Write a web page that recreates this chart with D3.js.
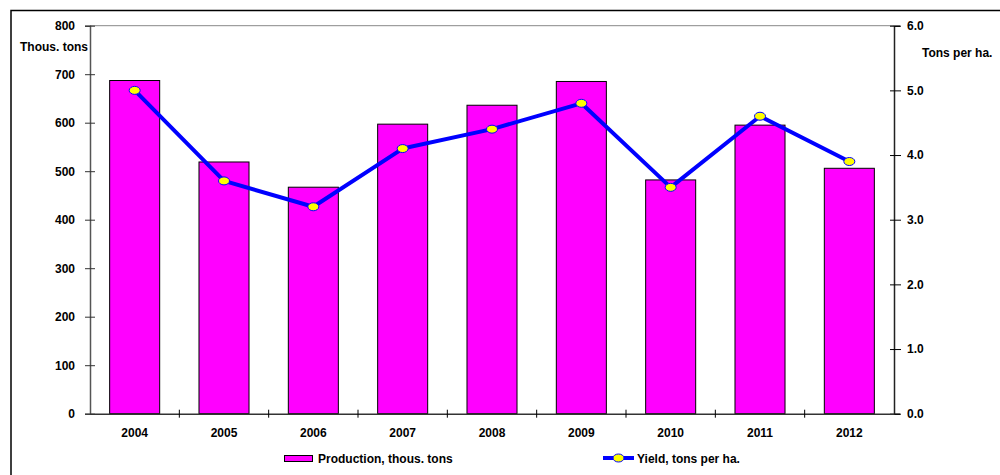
<!DOCTYPE html>
<html>
<head>
<meta charset="utf-8">
<script src="https://cdn.jsdelivr.net/npm/d3@7"></script>
<style>
  html, body { margin: 0; padding: 0; background: #fff; }
  svg { display: block; font-family: "Liberation Sans", Arial, sans-serif; font-weight: bold; }
</style>
</head>
<body>
<svg id="chart" width="1000" height="475"></svg>
<script>
// Annual production (bars, left axis) and yield (line, right axis)
const years = ["2004", "2005", "2006", "2007", "2008", "2009", "2010", "2011", "2012"];
const production = [687, 519, 467, 597, 636, 685, 482, 595, 506];
const yieldPerHa = [5.0, 3.6, 3.2, 4.1, 4.4, 4.8, 3.5, 4.6, 3.9];
const leftTicks = [0, 100, 200, 300, 400, 500, 600, 700, 800];
const rightTicks = [0, 1, 2, 3, 4, 5, 6];

const FONT = "Liberation Sans, Arial, sans-serif";
const FS = 12;

const svg = d3.select("#chart");
const plot = { left: 90, right: 894, top: 25.7, bottom: 413.7 };

// outer frame
svg.append("rect")
  .attr("x", 11).attr("y", 10.5).attr("width", 1000).attr("height", 500)
  .attr("fill", "none").attr("stroke", "#000").attr("stroke-width", 1.5);

const x = d3.scaleBand().domain(years).range([plot.left, plot.right]).paddingInner(0.44).paddingOuter(0.22);
const yL = d3.scaleLinear().domain([0, 800]).range([plot.bottom, plot.top]);
const yR = d3.scaleLinear().domain([0, 6]).range([plot.bottom, plot.top]);

// plot area top border
svg.append("line")
  .attr("x1", plot.left).attr("x2", plot.right)
  .attr("y1", plot.top).attr("y2", plot.top)
  .attr("stroke", "#888").attr("stroke-width", 1);

// bars
svg.append("g").selectAll("rect").data(years).join("rect")
  .attr("x", d => x(d))
  .attr("y", (d, i) => yL(production[i]))
  .attr("width", x.bandwidth())
  .attr("height", (d, i) => yL(0) - yL(production[i]))
  .attr("fill", "#ff00ff")
  .attr("stroke", "#000").attr("stroke-width", 1);

function styleText(sel) {
  sel.attr("font-size", FS).attr("font-weight", "bold").attr("fill", "#000").attr("font-family", FONT);
}

// left axis
const axL = svg.append("g").attr("transform", `translate(${plot.left},0)`)
  .call(d3.axisLeft(yL).tickValues(leftTicks).tickSize(5).tickPadding(10).tickFormat(d3.format("d")));
axL.select(".domain").attr("stroke", "#555").attr("stroke-width", 1.5);
axL.selectAll(".tick line").attr("x2", 5).attr("x1", -5).attr("stroke", "#333");
styleText(axL.selectAll(".tick text"));

// right axis
const axR = svg.append("g").attr("transform", `translate(${plot.right},0)`)
  .call(d3.axisRight(yR).tickValues(rightTicks).tickSize(6).tickPadding(7).tickFormat(d3.format(".1f")));
axR.select(".domain").attr("stroke", "#222").attr("stroke-width", 1.5);
axR.selectAll(".tick line").attr("x1", -4).attr("x2", 7).attr("stroke", "#000");
styleText(axR.selectAll(".tick text"));

// bottom axis: ticks at category boundaries
const axB = svg.append("g").attr("transform", `translate(0,${plot.bottom})`)
  .call(d3.axisBottom(x).tickSize(0).tickPadding(15));
axB.select(".domain").attr("stroke", "#333").attr("stroke-width", 1.5);
styleText(axB.selectAll(".tick text"));
const step = x.step();
const firstEdge = plot.left + x.paddingOuter() * step - x.paddingInner() * step / 2;
const bounds = d3.range(1, years.length).map(i => firstEdge + i * step);
svg.append("g").selectAll("line").data(bounds).join("line")
  .attr("x1", d => d).attr("x2", d => d)
  .attr("y1", plot.bottom - 4).attr("y2", plot.bottom + 4)
  .attr("stroke", "#000").attr("stroke-width", 1);

// axis titles
styleText(svg.append("text").attr("x", 20).attr("y", 51).text("Thous. tons"));
styleText(svg.append("text").attr("x", 922).attr("y", 57).text("Tons per ha."));

// yield line
const cx = i => x(years[i]) + x.bandwidth() / 2;
const line = d3.line().x((d, i) => cx(i)).y(d => yR(d));
svg.append("path").datum(yieldPerHa)
  .attr("d", line).attr("fill", "none")
  .attr("stroke", "#0000ff").attr("stroke-width", 4).attr("stroke-linejoin", "round");
svg.append("g").selectAll("ellipse").data(yieldPerHa).join("ellipse")
  .attr("cx", (d, i) => cx(i))
  .attr("cy", d => yR(d))
  .attr("rx", 5.5).attr("ry", 4)
  .attr("fill", "#ffff00").attr("stroke", "#0000ff").attr("stroke-width", 1);

// legend
const lg = svg.append("g");
lg.append("rect").attr("x", 284.5).attr("y", 455.5).attr("width", 28).attr("height", 6)
  .attr("fill", "#ff00ff").attr("stroke", "#000").attr("stroke-width", 1);
styleText(lg.append("text").attr("x", 318).attr("y", 463).text("Production, thous. tons"));
lg.append("line").attr("x1", 603).attr("x2", 634).attr("y1", 458).attr("y2", 458)
  .attr("stroke", "#0000ff").attr("stroke-width", 4);
lg.append("ellipse").attr("cx", 618.5).attr("cy", 458).attr("rx", 5.5).attr("ry", 4)
  .attr("fill", "#ffff00").attr("stroke", "#0000ff").attr("stroke-width", 1);
styleText(lg.append("text").attr("x", 637).attr("y", 463).text("Yield, tons per ha."));
</script>
</body>
</html>
